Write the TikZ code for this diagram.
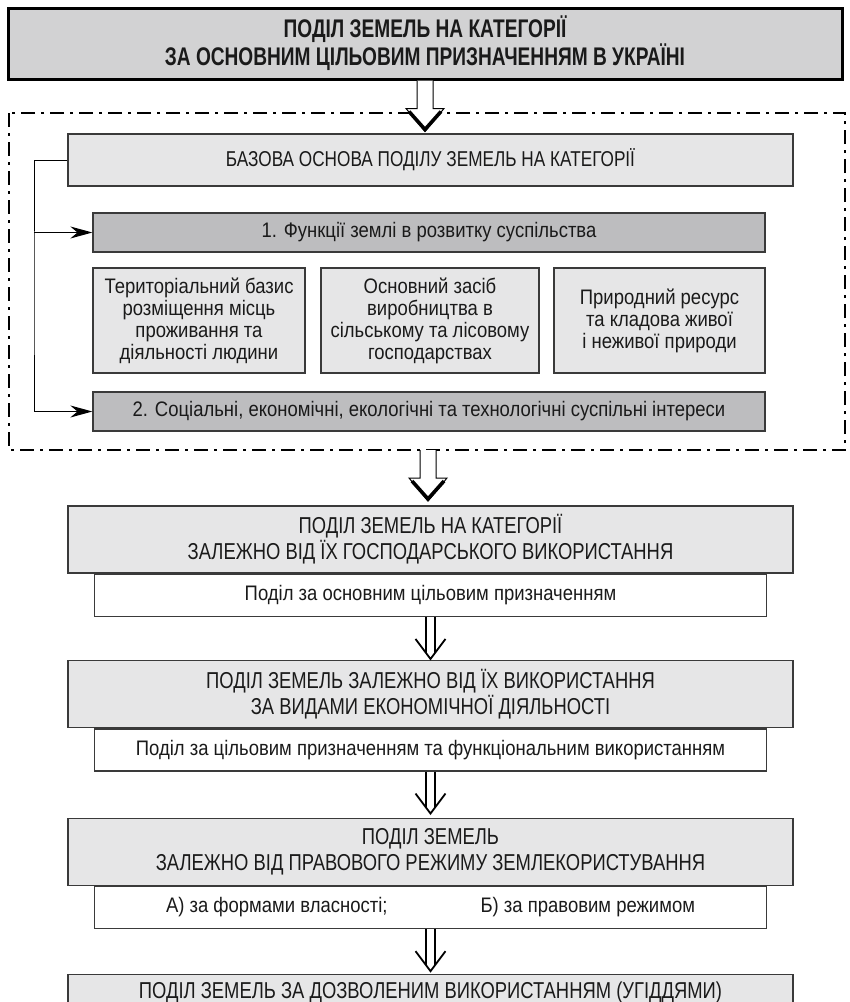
\documentclass[tikz,border=0pt]{standalone}
\usepackage{fontspec}
\setmainfont{Liberation Sans}
\newfontfamily\titlefont{Liberation Sans}[FakeStretch=0.75]
\newfontfamily\capsfont{Liberation Sans}[FakeStretch=0.8]
\newfontfamily\bodyfont{Liberation Sans}[FakeStretch=0.88]
\usetikzlibrary{positioning,arrows.meta}
\definecolor{titlegray}{HTML}{D2D2D3}
\definecolor{boxgray}{HTML}{E6E6E7}
\definecolor{bandgray}{HTML}{BDBDBF}
\definecolor{edgegray}{HTML}{3A3A3A}
\definecolor{inkgray}{HTML}{1A1A1A}

\tikzset{
  hollowarrow/.pic={
    \draw[fill=white, line width=1pt] (-8,0) -- (-8,28) -- (-19,28) -- (0,51) -- (19,28) -- (8,28) -- (8,0);
    \draw[line width=3.6pt, line join=miter] (-16,31) -- (0,49) -- (16,31);
  },
  twinarrow/.pic={
    \draw[line width=1.6pt] (-4.5,0) -- (-4.5,36) (4.5,0) -- (4.5,36);
    \draw[line width=1.8pt, line join=miter] (-15,22) -- (0,42) -- (15,22);
  }
}

\begin{document}
\begin{tikzpicture}[x=1pt, y=-1pt,
                    every node/.style={inner sep=0pt, align=center, text=inkgray},
                    titlebox/.style={draw=black, line width=3pt, fill=titlegray,
                                     minimum width=834pt, minimum height=71pt,
                                     font=\titlefont\bfseries\fontsize{25.5}{24}\selectfont},
                    headbox/.style={draw=edgegray, line width=1.3pt, fill=boxgray,
                                    minimum width=725pt, minimum height=67pt,
                                    font=\capsfont\fontsize{23}{26}\selectfont},
                    notebox/.style={draw=edgegray, line width=1.3pt, fill=white,
                                    minimum width=672pt, minimum height=42pt,
                                    font=\bodyfont\fontsize{21}{22}\selectfont},
                    bandbox/.style={draw=edgegray, line width=1.3pt, fill=bandgray,
                                    minimum width=672pt, minimum height=39pt,
                                    font=\bodyfont\fontsize{21}{22}\selectfont},
                    rolebox/.style={draw=edgegray, line width=1.3pt, fill=boxgray,
                                    minimum height=105pt,
                                    font=\bodyfont\fontsize{21}{22}\selectfont},
                    link/.style={line width=1pt, -{Stealth[length=22pt, width=12pt]}},
                    frame/.style={line width=2.2pt, dash pattern=on 14pt off 6pt on 3pt off 6pt}]
  \useasboundingbox (0,0) rectangle (850,1002);

  % title and the dotted frame
  \node[titlebox](title) at (425,43.5) {ПОДІЛ ЗЕМЕЛЬ НА КАТЕГОРІЇ\\ЗА ОСНОВНИМ ЦІЛЬОВИМ ПРИЗНАЧЕННЯМ В УКРАЇНІ};
  \draw[frame] (9,113) rectangle (845,450);
  \coordinate (framefoot) at (428,450);
  \pic at (title.south) {hollowarrow};

  % base of the division
  \node[headbox, minimum height=52pt, font=\capsfont\fontsize{21.5}{26}\selectfont](base) at (430.5,160)
       {БАЗОВА ОСНОВА ПОДІЛУ ЗЕМЕЛЬ НА КАТЕГОРІЇ};
  \node[bandbox](functions) at (429,232.5) {1. Функції землі в розвитку суспільства};
  \node[rolebox, minimum width=212pt](territory) at (199,320.5)
       {Територіальний базис\\розміщення місць\\проживання та\\діяльності людини};
  \node[rolebox, minimum width=218pt](means) at (430,320.5)
       {Основний засіб\\виробництва в\\сільському та лісовому\\господарствах};
  \node[rolebox, minimum width=211pt](resource) at (659.5,320.5)
       {Природний ресурс\\та кладова живої\\і неживої природи};
  \node[bandbox](interests) at (429,411.5) {2. Соціальні, економічні, екологічні та технологічні суспільні інтереси};

  \coordinate (rail) at (34,300);
  \draw[link] (base.west) -| (rail) |- (interests.west);
  \draw[link] (functions.west -| rail) -- (functions.west);

  % the chain of divisions
  \node[headbox](economic) at (430.5,539.5) {ПОДІЛ ЗЕМЕЛЬ НА КАТЕГОРІЇ\\ЗАЛЕЖНО ВІД ЇХ ГОСПОДАРСЬКОГО ВИКОРИСТАННЯ};
  \node[notebox](economicnote) [below=0pt of economic] {Поділ за основним цільовим призначенням};
  \node[headbox](activity) [below=43pt of economicnote] {ПОДІЛ ЗЕМЕЛЬ ЗАЛЕЖНО ВІД ЇХ ВИКОРИСТАННЯ\\ЗА ВИДАМИ ЕКОНОМІЧНОЇ ДІЯЛЬНОСТІ};
  \node[notebox](activitynote) [below=0pt of activity] {Поділ за цільовим призначенням та функціональним використанням};
  \node[headbox](legal) [below=46pt of activitynote] {ПОДІЛ ЗЕМЕЛЬ\\ЗАЛЕЖНО ВІД ПРАВОВОГО РЕЖИМУ ЗЕМЛЕКОРИСТУВАННЯ};
  \node[notebox](legalnote) [below=0pt of legal] {А) за формами власності;\hspace{93pt}Б) за правовим режимом};
  \node[headbox, minimum height=36pt](landuse) [below=45pt of legalnote] {ПОДІЛ ЗЕМЕЛЬ ЗА ДОЗВОЛЕНИМ ВИКОРИСТАННЯМ (УГІДДЯМИ)};

  \pic at (framefoot) {hollowarrow};
  \pic at (economicnote.south) {twinarrow};
  \pic at (activitynote.south) {twinarrow};
  \pic at (legalnote.south) {twinarrow};
\end{tikzpicture}
\end{document}
